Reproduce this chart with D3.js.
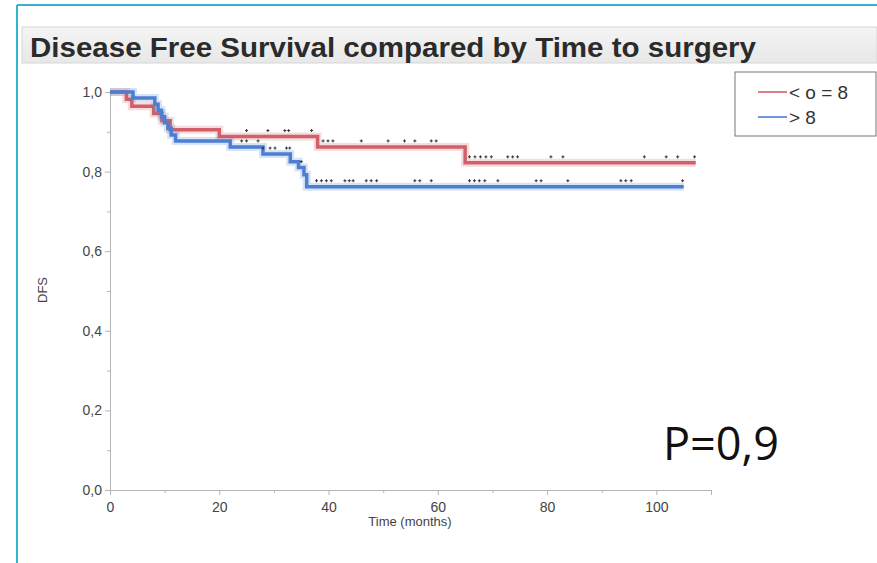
<!DOCTYPE html>
<html>
<head>
<meta charset="utf-8">
<script src="https://cdn.jsdelivr.net/npm/d3@7"></script>
<style>
  body { margin: 0; background: #fff; }
  svg { display: block; }
</style>
</head>
<body>
<div id="wrapper"></div>
<script>
// step data (time in months, DFS)
const redTimes = [0, 3, 4, 8, 9.5, 11, 20, 38, 65]
const redSurv  = [1, 0.982, 0.964, 0.946, 0.928, 0.905, 0.888, 0.862, 0.822]
const redEnd = 107.2
const blueTimes = [0, 4.2, 8.2, 8.8, 9.4, 10, 10.6, 11.2, 12, 22, 28, 33, 34.5, 35.5, 36]
const blueSurv  = [1, 0.985, 0.969, 0.954, 0.938, 0.923, 0.908, 0.892, 0.877, 0.862, 0.844, 0.825, 0.81, 0.792, 0.762]
const blueEnd = 105
// censored observations
const redCensor = [25, 28.9, 32, 32.7, 36.9, 39, 39.9, 40.8, 46, 50.9, 53.9, 55.8, 58.8, 59.7,
  65.8, 66.8, 67.8, 68.8, 69.8, 72.8, 73.7, 74.6, 80.7, 82.9, 97.8, 101.8, 103.9, 107]
const blueCensor = [24.1, 25, 27.1, 28, 29.3, 30.2, 32.3, 32.9, 35, 37.8, 38.7, 39.6, 40.5,
  43, 43.8, 44.5, 46.9, 47.8, 48.8, 55.8, 56.7, 58.8, 65.8, 66.7, 67.6, 68.6, 71,
  78, 78.9, 83.8, 93.5, 94.4, 95.4, 104.8]
const xTicks = [0, 20, 40, 60, 80, 100]
const yTicks = [0, 0.2, 0.4, 0.6, 0.8, 1.0]
const groups = ["< o = 8", "> 8"]
const colors = ["#d25f69", "#4c7fd2"]

const width = 877, height = 563
const font = "Helvetica, 'Liberation Sans', Arial, sans-serif"
const svg = d3.select("#wrapper").append("svg")
  .attr("width", width).attr("height", height)
  .style("font-family", font)

// cyan frame
svg.append("line").attr("x1", 17).attr("x2", 17).attr("y1", 5).attr("y2", height)
  .attr("stroke", "#35b4d2").attr("stroke-width", 2)
svg.append("line").attr("x1", 17).attr("x2", width).attr("y1", 5).attr("y2", 5)
  .attr("stroke", "#35b4d2").attr("stroke-width", 2)

// title band
const grad = svg.append("defs").append("linearGradient").attr("id", "band")
  .attr("x1", 0).attr("x2", 0).attr("y1", 0).attr("y2", 1)
grad.append("stop").attr("offset", 0).attr("stop-color", "#f4f4f4")
grad.append("stop").attr("offset", 1).attr("stop-color", "#e8e8e8")
svg.append("rect").attr("x", 22).attr("y", 27).attr("width", width - 22).attr("height", 36)
  .attr("fill", "url(#band)").attr("stroke", "#d6d6d6")
svg.append("text").attr("x", 30).attr("y", 57)
  .attr("font-size", 28).attr("font-weight", "bold").attr("fill", "#2b2b2b")
  .attr("textLength", 726).attr("lengthAdjust", "spacingAndGlyphs")
  .text("Disease Free Survival compared by Time to surgery")

const x = d3.scaleLinear().domain([0, 110]).range([110, 711])
const y = d3.scaleLinear().domain([0, 1]).range([490, 92])

// axes
const gx = svg.append("g").attr("transform", "translate(0,490)")
gx.call(d3.axisBottom(x).tickValues(d3.range(0, 111, 10)).tickSize(5)
  .tickFormat(d => xTicks.includes(d) ? d : ""))
const gy = svg.append("g").attr("transform", "translate(110,0)")
gy.call(d3.axisLeft(y).tickValues(d3.range(0, 1.01, 0.1)).tickSize(5)
  .tickFormat(d => yTicks.some(v => Math.abs(v - d) < 1e-6) ? d3.format(".1f")(d).replace(".", ",") : ""))
for (const g of [gx, gy]) {
  g.select(".domain").attr("stroke", "#b5b5b5")
  g.selectAll(".tick line").attr("stroke", "#b5b5b5")
  g.selectAll(".tick text").attr("fill", "#444").attr("font-size", 14)
    .style("font-family", font)
}
gx.selectAll(".tick text").attr("dy", "1.0em")
gy.selectAll(".tick").filter(d => !yTicks.some(v => Math.abs(v - d) < 1e-6))
  .select("line").attr("x2", -3)
gx.selectAll(".tick").filter(d => !xTicks.includes(d)).select("line").attr("y2", 3)

svg.append("text").attr("x", 410).attr("y", 526).attr("text-anchor", "middle")
  .attr("font-size", 13).attr("fill", "#444").text("Time (months)")
svg.append("text").attr("transform", "translate(47,290) rotate(-90)").attr("text-anchor", "middle")
  .attr("font-size", 13).attr("fill", "#444").text("DFS")

// curves
const line = d3.line().x(d => x(d[0])).y(d => y(d[1])).curve(d3.curveStepAfter)
const series = [
  {times: redTimes, surv: redSurv, end: redEnd, censor: redCensor, color: colors[0]},
  {times: blueTimes, surv: blueSurv, end: blueEnd, censor: blueCensor, color: colors[1]}
]
series.forEach(s => {
  const pts = s.times.map((t, i) => [t, s.surv[i]])
  pts.push([s.end, s.surv[s.surv.length - 1]])
  svg.append("path").attr("d", line(pts)).attr("fill", "none")
    .attr("stroke", s.color).attr("stroke-opacity", 0.22).attr("stroke-width", 8)
  svg.append("path").attr("d", line(pts)).attr("fill", "none")
    .attr("stroke", s.color).attr("stroke-width", 3.5)
})
series.forEach(s => {
  const stepAt = t => s.surv[d3.bisectRight(s.times, t) - 1]
  svg.append("g").selectAll("path").data(s.censor).join("path")
    .attr("d", d => `M${x(d) - 1.5},${y(stepAt(d)) - 6}h3M${x(d)},${y(stepAt(d)) - 7.5}v3`)
    .attr("stroke", "#333").attr("stroke-width", 1)
})

// legend
const lg = svg.append("g")
lg.append("rect").attr("x", 735).attr("y", 72).attr("width", 141).attr("height", 64)
  .attr("fill", "#fff").attr("stroke", "#777")
groups.forEach((g, i) => {
  const ly = 92 + i * 25
  lg.append("line").attr("x1", 758).attr("x2", 787).attr("y1", ly).attr("y2", ly)
    .attr("stroke", colors[i]).attr("stroke-opacity", 0.8).attr("stroke-width", 2)
  lg.append("text").attr("x", 789).attr("y", ly + 6.5).attr("font-size", 19).attr("fill", "#333").text(g)
})

// p-value
svg.append("text").attr("x", 663).attr("y", 460).attr("font-size", 45)
  .attr("textLength", 116).attr("lengthAdjust", "spacingAndGlyphs")
  .style("font-family", "'Open Sans', sans-serif").attr("fill", "#111").text("P=0,9")
</script>
</body>
</html>
